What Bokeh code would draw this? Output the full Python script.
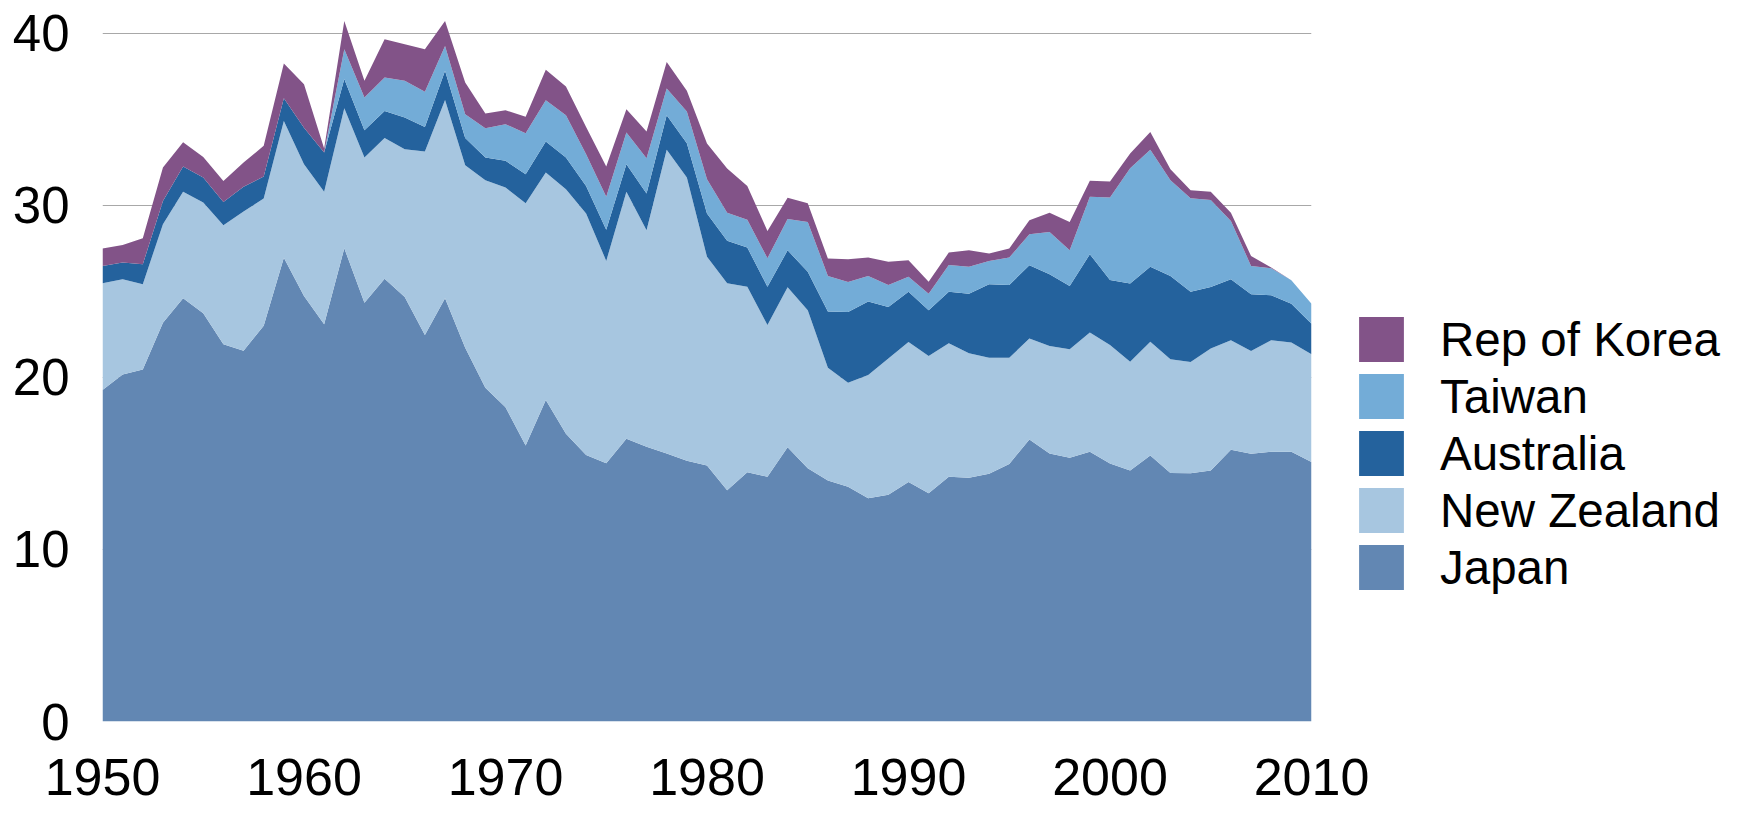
from bokeh.plotting import figure
from bokeh.models import FixedTicker, Legend, LegendItem, ColumnDataSource, Range1d
from bokeh.embed import file_html
from bokeh.resources import INLINE

years = list(range(1950, 2011))

japan = [19.26, 20.17, 20.46, 23.17, 24.60, 23.72, 21.92, 21.55, 22.99, 26.95,
         24.73, 23.08, 27.50, 24.34, 25.73, 24.67, 22.46, 24.60, 21.72, 19.39,
         18.26, 16.04, 18.68, 16.72, 15.48, 15.00, 16.43, 15.97, 15.58, 15.15,
         14.88, 13.44, 14.48, 14.22, 15.94, 14.71, 14.01, 13.64, 12.97, 13.18,
         13.92, 13.26, 14.22, 14.16, 14.39, 14.97, 16.39, 15.58, 15.32, 15.67,
         14.99, 14.59, 15.46, 14.44, 14.42, 14.59, 15.79, 15.56, 15.67, 15.67,
         15.08]
new_zealand = [6.21, 5.53, 4.95, 5.73, 6.18, 6.44, 6.92, 8.08, 7.40, 7.95,
               7.65, 7.71, 8.14, 8.43, 8.17, 8.59, 10.66, 11.52, 10.61, 12.06,
               12.77, 14.08, 13.22, 14.21, 14.04, 11.76, 14.36, 12.58, 17.64, 16.46,
               12.12, 12.03, 10.79, 8.82, 9.29, 9.19, 6.55, 6.05, 7.17, 7.92,
               8.13, 7.98, 7.76, 7.24, 6.75, 6.17, 5.86, 6.24, 6.31, 6.93,
               6.89, 6.32, 6.61, 6.61, 6.47, 7.08, 6.36, 5.97, 6.48, 6.35,
               6.26]
australia = [1.00, 0.97, 1.16, 1.35, 1.47, 1.45, 1.35, 1.44, 1.28, 1.32,
             2.12, 2.27, 1.69, 1.59, 1.58, 1.84, 1.43, 1.69, 1.57, 1.32,
             1.55, 1.68, 1.80, 1.84, 1.60, 1.81, 1.59, 2.13, 2.01, 1.99,
             2.52, 2.46, 2.27, 2.23, 2.15, 2.24, 3.26, 4.11, 4.26, 2.99,
             2.93, 2.66, 3.00, 3.46, 4.27, 4.23, 4.26, 4.17, 3.68, 4.55,
             3.78, 4.54, 4.36, 4.84, 4.09, 3.58, 3.55, 3.30, 2.62, 2.26,
             1.78]
taiwan = [0, 0, 0, 0, 0, 0, 0, 0, 0, 0,
          0, 0, 1.74, 1.90, 1.94, 2.13, 2.05, 1.45, 1.39, 1.71,
          2.13, 2.39, 2.40, 2.46, 1.85, 1.93, 1.84, 2.05, 1.55, 1.85,
          1.99, 1.64, 1.61, 1.65, 1.82, 2.89, 2.07, 1.74, 1.49, 1.28,
          0.87, 0.96, 1.55, 1.57, 1.35, 1.59, 1.80, 2.46, 2.07, 3.35,
          4.79, 6.70, 6.79, 5.56, 5.43, 5.06, 3.39, 1.64, 1.57, 1.36,
          1.16]
korea = [1.01, 1.02, 1.51, 1.94, 1.41, 1.19, 1.22, 1.41, 1.78, 2.01,
         2.53, 0.24, 1.63, 0.97, 2.23, 2.13, 2.47, 1.44, 1.84, 0.85,
         0.81, 0.95, 1.77, 1.67, 1.58, 1.75, 1.36, 1.55, 1.55, 1.20,
         2.08, 2.56, 1.97, 1.59, 1.23, 1.09, 1.01, 1.32, 1.07, 1.35,
         0.95, 0.70, 0.72, 0.95, 0.43, 0.52, 0.82, 1.12, 1.65, 0.93,
         0.93, 0.85, 1.04, 0.64, 0.46, 0.47, 0.48, 0.58, 0.04, 0.0,
         0.0]

series_names = ["Japan", "New Zealand", "Australia", "Taiwan", "Rep of Korea"]
series_colors = ["#6287b3", "#a7c6e0", "#24629d", "#73acd7", "#825388"]
x_ticks = [1950, 1960, 1970, 1980, 1990, 2000, 2010]
y_ticks = [0, 10, 20, 30, 40]

source = ColumnDataSource(data={
    "year": years,
    "Japan": japan,
    "New Zealand": new_zealand,
    "Australia": australia,
    "Taiwan": taiwan,
    "Rep of Korea": korea,
})

FONT = "Liberation Sans"

p = figure(frame_width=1209, frame_height=709, output_backend="svg",
           toolbar_location=None, x_range=Range1d(1950, 2010),
           y_range=Range1d(0, 41.2), min_border_left=102, min_border_top=12,
           min_border_bottom=100, min_border_right=425, outline_line_color=None)

rends = p.varea_stack(stackers=series_names, x="year", color=series_colors,
                      source=source)

p.xgrid.grid_line_color = None
p.ygrid.grid_line_color = "#a8a8a8"
p.ygrid.grid_line_width = 1.2
p.ygrid.ticker = FixedTicker(ticks=y_ticks)

p.xaxis.ticker = FixedTicker(ticks=x_ticks)
p.yaxis.ticker = FixedTicker(ticks=y_ticks)
for ax in (p.xaxis[0], p.yaxis[0]):
    ax.axis_line_color = None
    ax.major_tick_line_color = None
    ax.minor_tick_line_color = None
    ax.major_label_text_font = FONT
    ax.major_label_text_color = "black"
p.xaxis.major_label_text_font_size = "52px"
p.yaxis.major_label_text_font_size = "51px"
p.xaxis.major_label_standoff = 31
p.yaxis.major_label_standoff = 27

items = [LegendItem(label=series_names[i], renderers=[rends[i]]) for i in range(4, -1, -1)]
legend = Legend(items=items, location=(42, 126), orientation="vertical",
                glyph_width=56, glyph_height=56, label_standoff=31,
                spacing=1, padding=5, margin=0,
                label_text_font=FONT, label_text_font_size="47.5px",
                label_text_color="black",
                border_line_color=None, background_fill_alpha=0)
p.add_layout(legend, "right")

open("out.html", "w").write(file_html(p, INLINE))
